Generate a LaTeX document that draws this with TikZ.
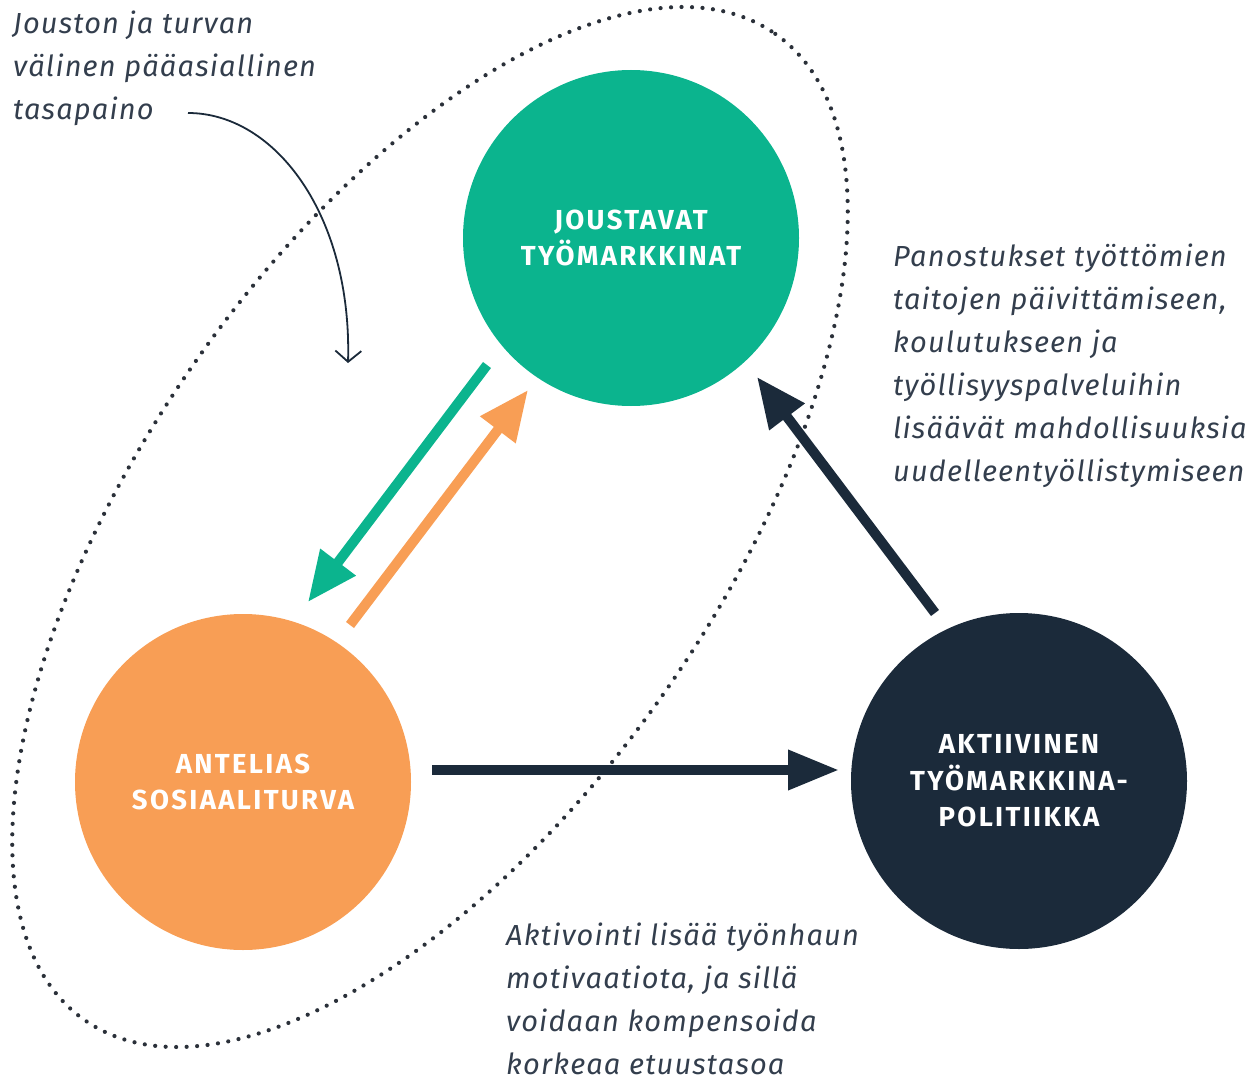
\documentclass[tikz,border=0pt]{standalone}
\usepackage{fontspec}
\setmainfont{Fira Sans}
\newfontfamily\notefont{Fira Sans}[LetterSpace=4]
\newfontfamily\hubfont{Fira Sans}[LetterSpace=8.5]
\usetikzlibrary{arrows.meta}
\definecolor{cgreen}{HTML}{0BB48E}
\definecolor{corange}{HTML}{F89E55}
\definecolor{cnavy}{HTML}{1B2A3A}
\definecolor{ctext}{HTML}{333E4D}
\definecolor{cdot}{HTML}{2A3039}
\begin{document}
\begin{tikzpicture}[x=1pt,y=-1pt,
  hub/.style={circle, minimum size=336pt, inner sep=0pt, text=white,
    font=\hubfont\bfseries\fontsize{27.5}{36.5}\selectfont, align=center},
  note/.style={anchor=north west, inner sep=0pt, text=ctext,
    font=\notefont\itshape\fontsize{29}{43}\selectfont, align=left},
  fat/.style={line width=10pt},
  bighead/.style={-{Triangle[length=50pt,width=42pt]}},
]
\useasboundingbox (0,0) rectangle (1259,1081);

% dotted ellipse
\draw[cdot, line width=4.2pt, line cap=round, dash pattern=on 0pt off 10.5pt,
  rotate around={55:(430,527)}] (430,527) ellipse [x radius=602, y radius=287];

% hubs
\node[hub, fill=cgreen] (green) at (631,238) {JOUSTAVAT\\TYÖMARKKINAT};
\node[hub, fill=corange] (orange) at (243,782) {ANTELIAS\\SOSIAALITURVA};
\node[hub, fill=cnavy] (navy) at (1019,781) {AKTIIVINEN\\TYÖMARKKINA-\\POLITIIKKA};

% arrow end points
\coordinate (g1) at (487,365);
\coordinate (g2) at (308,602);
\coordinate (o1) at (350,625);
\coordinate (o2) at (528,390);
\coordinate (h1) at (432,770);
\coordinate (h2) at (839,770);
\coordinate (d1) at (935,613);
\coordinate (d2) at (757,377);

\draw[fat, cgreen, bighead] (g1) -- (g2);
\draw[fat, corange, bighead] (o1) -- (o2);
\draw[fat, cnavy, -{Triangle[length=51pt,width=38pt]}] (h1) -- (h2);
\draw[fat, cnavy, bighead] (d1) -- (d2);

% notes
\node[note] (n1) at (13,11) {Jouston ja turvan\\välinen pääasiallinen\\tasapaino};
\node[note] (n2) at (893,244) {Panostukset työttömien\\taitojen päivittämiseen,\\koulutukseen ja\\työllisyyspalveluihin\\lisäävät mahdollisuuksia\\uudelleentyöllistymiseen};
\node[note] (n3) at (506,923) {Aktivointi lisää työnhaun\\motivaatiota, ja sillä\\voidaan kompensoida\\korkeaa etuustasoa};

% thin pointer
\coordinate (p1) at (188,113);
\coordinate (p2) at (348,363);
\draw[cnavy, line width=1.8pt, -{Straight Barb[length=11pt,width=26pt,line width=1.8pt]}]
  (p1) .. controls (275,113) and (352,215) .. (p2);
\end{tikzpicture}
\end{document}
